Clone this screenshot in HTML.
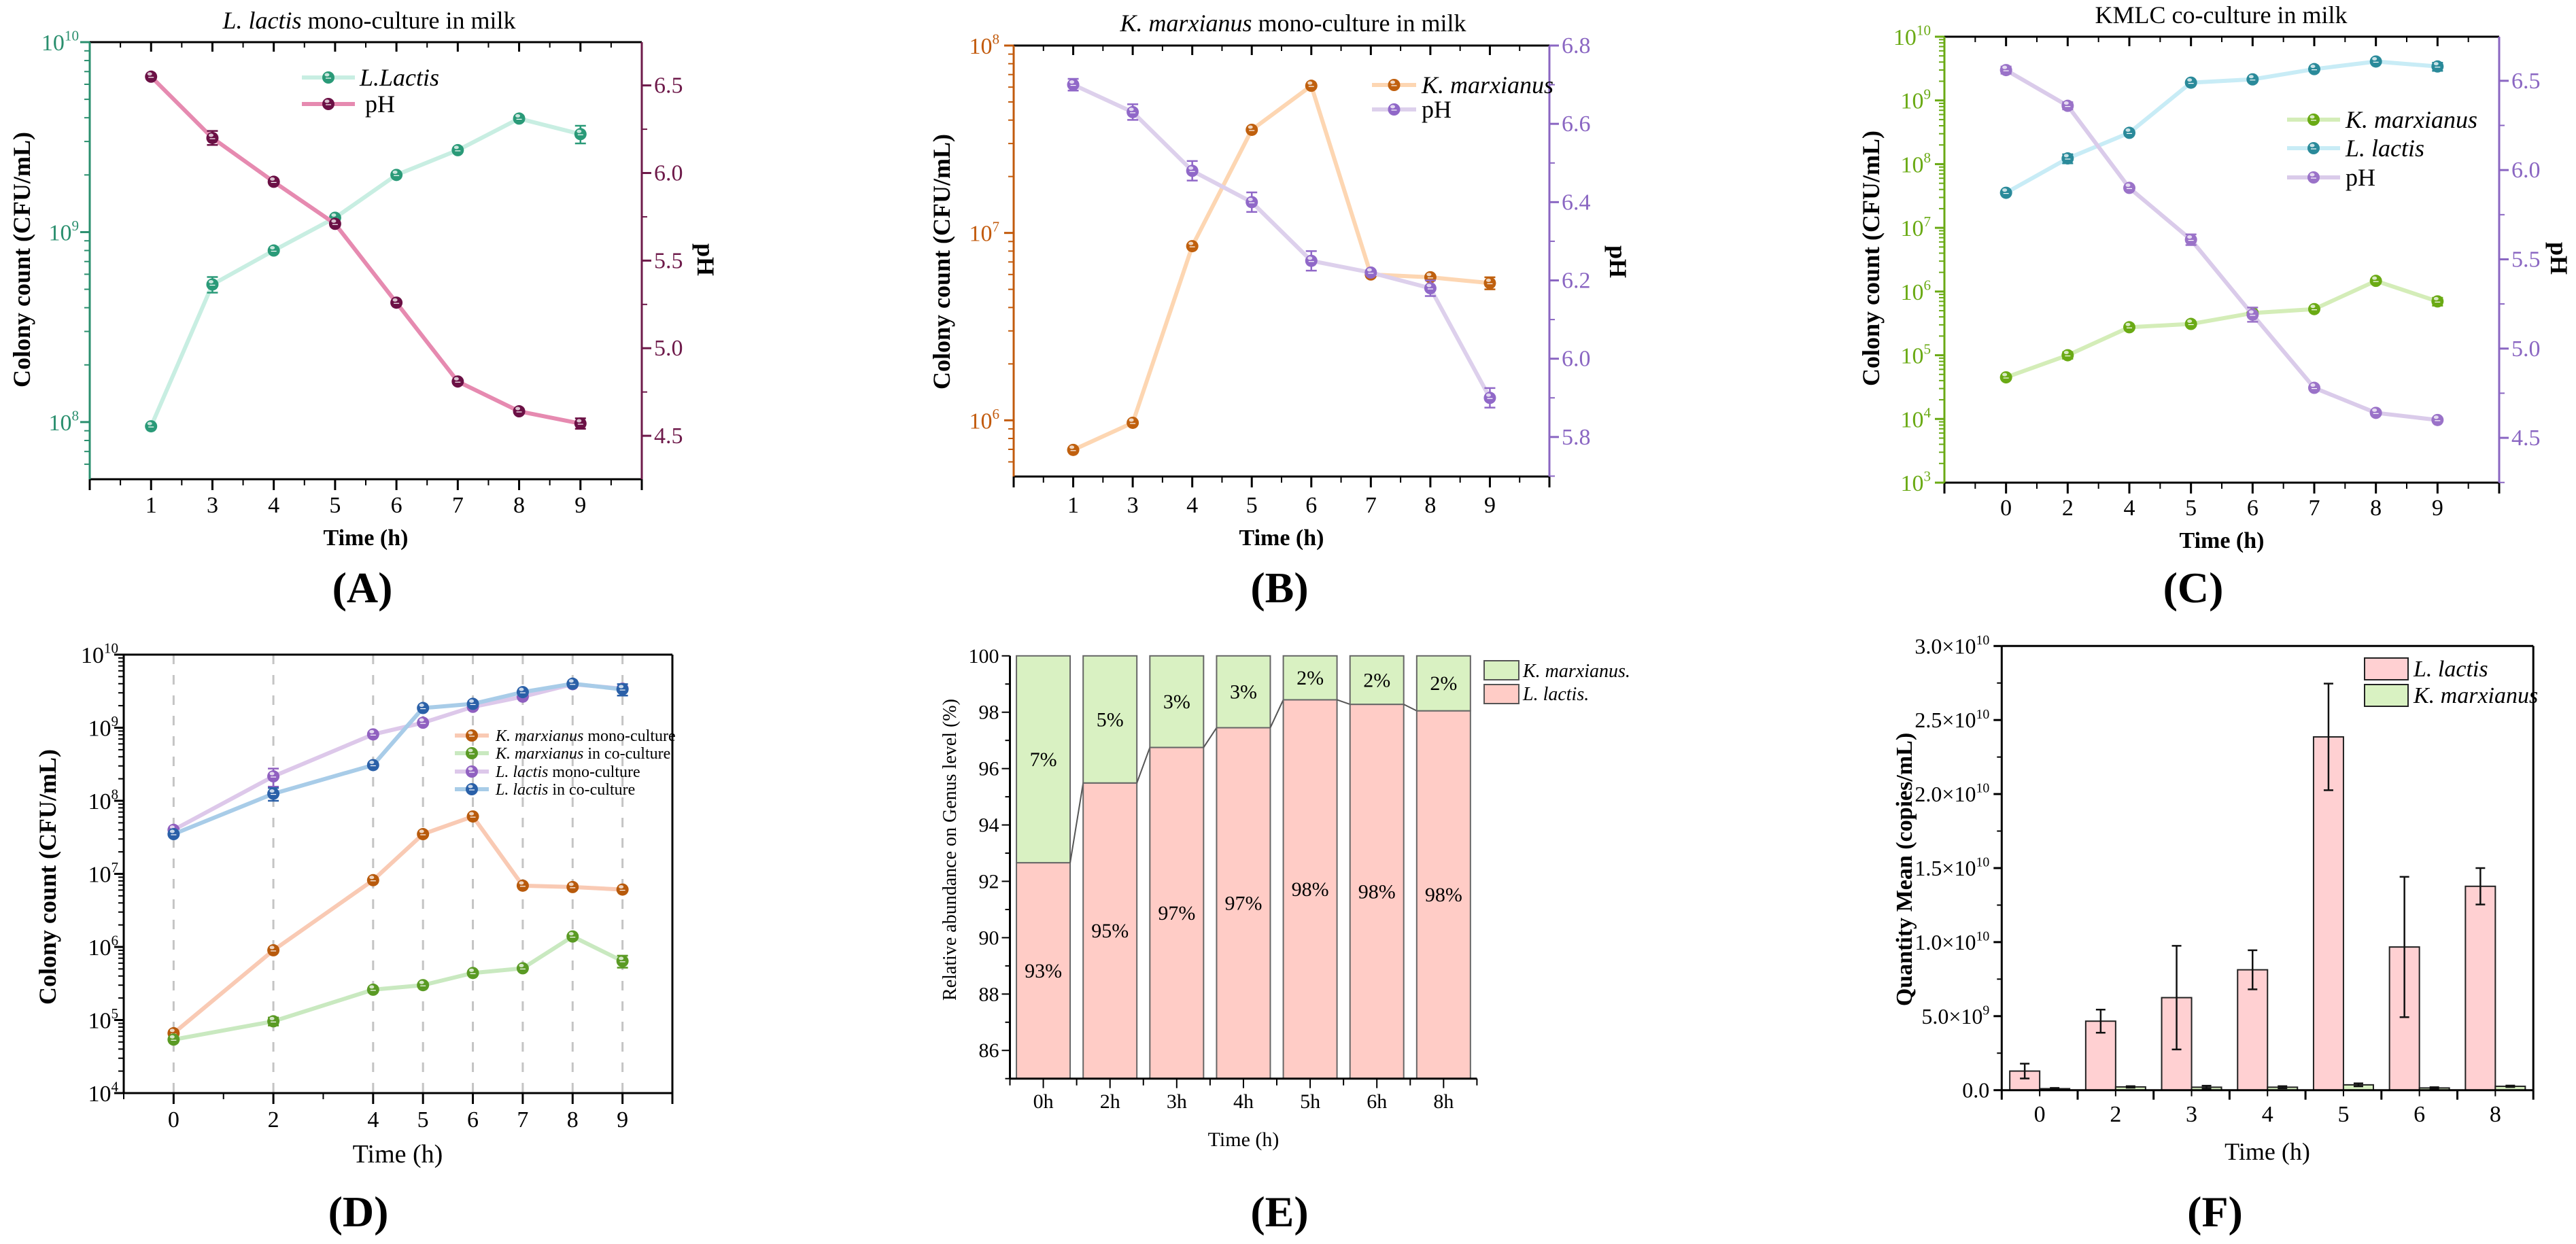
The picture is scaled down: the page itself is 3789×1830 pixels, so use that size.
<!DOCTYPE html>
<html><head><meta charset="utf-8">
<style>
html,body{margin:0;padding:0;background:#fff;}
svg{display:block;}
svg text{font-family:"Liberation Serif","DejaVu Serif",serif;}
</style></head>
<body>
<svg id="fig" xmlns="http://www.w3.org/2000/svg" width="3789" height="1830" viewBox="0 0 3789 1830" font-family="Liberation Serif, serif">
<rect x="0" y="0" width="3789" height="1830" fill="#fff"/>
</svg>
<script>
// ---------- DATA ----------
// Panel A
const aCats = ['1','3','4','5','6','7','8','9'];
const aLactis = [9.5e7, 5.3e8, 8.0e8, 1.19e9, 2.0e9, 2.7e9, 3.96e9, 3.28e9];
const aLactisErr = [0, 0.5e8, 0, 0, 0, 0, 0, 0.35e9];
const aPH = [6.55, 6.20, 5.95, 5.71, 5.26, 4.81, 4.64, 4.57];
const aPHErr = [0.01, 0.04, 0.01, 0.01, 0.01, 0.01, 0.01, 0.03];
// Panel B
const bCats = ['1','3','4','5','6','7','8','9'];
const bKmarx = [6.95e5, 9.7e5, 8.5e6, 3.55e7, 6.1e7, 6.0e6, 5.8e6, 5.4e6];
const bKmarxErr = [0, 0, 0, 0, 0, 0, 0, 0.4e6];
const bPH = [6.70, 6.63, 6.48, 6.40, 6.25, 6.22, 6.18, 5.90];
const bPHErr = [0.015, 0.02, 0.025, 0.025, 0.025, 0.005, 0.02, 0.025];
// Panel C
const cCats = ['0','2','4','5','6','7','8','9'];
const cKmarx = [4.5e4, 1.0e5, 2.75e5, 3.1e5, 4.6e5, 5.3e5, 1.47e6, 7.0e5];
const cKmarxErr = [0, 1.2e4, 0, 0, 0, 0, 0, 1.0e5];
const cLactis = [3.55e7, 1.23e8, 3.1e8, 1.9e9, 2.14e9, 3.1e9, 4.08e9, 3.41e9];
const cLactisErr = [0, 2e7, 0, 0, 0, 0, 0, 5e8];
const cPH = [6.56, 6.36, 5.90, 5.61, 5.19, 4.78, 4.64, 4.60];
const cPHErr = [0.02, 0.02, 0.01, 0.03, 0.04, 0.01, 0.01, 0.01];
// Panel D
const dTimes = [0, 2, 4, 5, 6, 7, 8, 9];
const dKmono = [6.6e4, 9.0e5, 8.2e6, 3.5e7, 6.1e7, 6.9e6, 6.6e6, 6.1e6];
const dKco = [5.4e4, 9.6e4, 2.6e5, 3.0e5, 4.4e5, 5.1e5, 1.39e6, 6.4e5];
const dLmono = [4.0e7, 2.16e8, 8.1e8, 1.17e9, 1.93e9, 2.66e9, 3.94e9, 3.42e9];
const dLco = [3.5e7, 1.25e8, 3.08e8, 1.86e9, 2.12e9, 3.07e9, 4.0e9, 3.35e9];
const dKcoErr = [0, 1.2e4, 0, 0, 0, 0, 0, 1.2e5];
const dLmonoErr = [0, 6e7, 0, 0, 0, 0, 0, 0];
const dLcoErr = [0, 2.5e7, 0, 0, 0, 0, 0, 6e8];
// Panel E
const eCats = ['0h','2h','3h','4h','5h','6h','8h'];
const eLactis = [92.66, 95.49, 96.75, 97.45, 98.44, 98.28, 98.05];
// Panel F
const fCats = ['0','2','3','4','5','6','8'];
const fLactis = [1.29e9, 4.66e9, 6.25e9, 8.13e9, 2.386e10, 9.67e9, 1.377e10];
const fLactisErr = [0.5e9, 0.78e9, 3.5e9, 1.32e9, 3.6e9, 4.74e9, 1.23e9];
const fKmarx = [0.1e9, 0.22e9, 0.2e9, 0.2e9, 0.36e9, 0.15e9, 0.26e9];
const fKmarxErr = [0.05e9, 0.05e9, 0.1e9, 0.07e9, 0.1e9, 0.05e9, 0.05e9];

// ---------- HELPERS ----------
const NS = 'http://www.w3.org/2000/svg';
const svg = document.getElementById('fig');
const SERIF = '"Liberation Serif", "DejaVu Serif", serif';
function el(tag, attrs, name, parent) {
  const e = document.createElementNS(NS, tag);
  for (const k in attrs) e.setAttribute(k, attrs[k]);
  
  
  (parent || svg).appendChild(e);
  return e;
}
function grp(name) { return el('g', {}, name); }
function line(x1, y1, x2, y2, c, w, name, p, dash) {
  const a = {x1:x1, y1:y1, x2:x2, y2:y2, stroke:c, 'stroke-width':w};
  if (dash) a['stroke-dasharray'] = dash;
  return el('line', a, name, p);
}
function txt(x, y, s, o, name, p) {
  o = o || {};
  const a = {x:x, y:y, 'font-size':o.size||30, fill:o.fill||'#000', 'text-anchor':o.anchor||'start'};
  a['font-family'] = SERIF;
  if (o.weight) a['font-weight'] = o.weight;
  if (o.style) a['font-style'] = o.style;
  if (o.rot) a.transform = 'rotate(' + o.rot + ' ' + x + ' ' + y + ')';
  const t = el('text', a, name, p);
  t.style.fontFamily = SERIF;
  if (Array.isArray(s)) {
    s.forEach(function(part) {
      const ts = document.createElementNS(NS, 'tspan');
      ts.setAttribute('font-family', SERIF);
      if (part.i) ts.setAttribute('font-style', 'italic');
      if (part.sup) { ts.setAttribute('font-size', (o.size||30)*0.62); ts.setAttribute('dy', -(o.size||30)*0.42); }
      ts.textContent = part.t;
      t.appendChild(ts);
    });
  } else t.textContent = s;
  return t;
}
function lin(d0, d1, r0, r1) { return function(v) { return r0 + (v - d0) * (r1 - r0) / (d1 - d0); }; }
function logS(L0, L1, r0, r1) { const f = lin(L0, L1, r0, r1); return function(v) { return f(Math.log10(v)); }; }
function marker(x, y, c, name, p) {
  const g = el('g', {}, name, p);
  el('circle', {cx:x, cy:y, r:9, fill:c}, name + '-dot', g);
  el('ellipse', {cx:x - 2, cy:y - 4, rx:3.5, ry:2.5, fill:'#fff', opacity:0.75}, name + '-shine', g);
  line(x - 4, y + 1, x + 4, y + 1, '#fff', 1.2, name + '-tick', g);
  return g;
}
function errBar(x, yLo, yHi, c, name, p, cap) {
  cap = cap || 8;
  const g = el('g', {}, name, p);
  line(x, yLo, x, yHi, c, 2.5, name + '-stem', g);
  line(x - cap, yLo, x + cap, yLo, c, 2.5, name + '-cap-low', g);
  line(x - cap, yHi, x + cap, yHi, c, 2.5, name + '-cap-high', g);
  return g;
}
function series(xs, vals, errs, ys, lineC, markC, name, p) {
  const g = el('g', {}, name, p);
  let d = '';
  vals.forEach(function(v, i) { d += (i ? 'L' : 'M') + xs[i] + ' ' + ys(v) + ' '; });
  el('path', {d:d, fill:'none', stroke:lineC, 'stroke-width':6, 'stroke-linejoin':'round'}, name + '-line', g);
  vals.forEach(function(v, i) {
    if (errs && errs[i] > 0) errBar(xs[i], ys(v - errs[i]), ys(v + errs[i]), markC, name + '-error-' + i, g);
  });
  vals.forEach(function(v, i) { marker(xs[i], ys(v), markC, name + '-point-' + i, g); });
  return g;
}
function logAxisLeft(x, yT, yB, L0, L1, ys, color, p, labelRight) {
  line(x, yT, x, yB, color, 3, 'left-axis-line', p);
  for (let e = Math.floor(L0); e <= Math.ceil(L1); e++) {
    for (let k = 1; k < 10; k++) {
      const L = e + Math.log10(k);
      if (L < L0 - 1e-6 || L > L1 + 1e-6) continue;
      const y = ys(Math.pow(10, L));
      if (k === 1) {
        line(x - 14, y, x, y, color, 3, 'left-major-tick', p);
        txt(labelRight, y + 12, [{t:'10'}, {t:String(e), sup:true}], {size:34, fill:color, anchor:'end'}, 'left-tick-label', p);
      } else line(x - 8, y, x, y, color, 2, 'left-minor-tick', p);
    }
  }
}
function catXAxis(x0, x1, yB, cats, p, labelY, topY) {
  line(x0, yB, x1, yB, '#000', 3, 'x-axis-line', p);
  if (topY !== undefined) line(x0, topY, x1, topY, '#000', 3, 'top-axis-line', p);
  const step = (x1 - x0) / 9;
  for (let j = 0; j <= 9; j++) {
    const x = x0 + j * step;
    line(x, yB, x, yB + 16, '#000', 3, 'x-major-tick', p);
    if (topY !== undefined) line(x, topY, x, topY + 14, '#000', 3, 'top-major-tick', p);
    if (j < 9) {
      line(x + step / 2, yB, x + step / 2, yB + 9, '#000', 2, 'x-minor-tick', p);
      if (topY !== undefined) line(x + step / 2, topY, x + step / 2, topY + 8, '#000', 2, 'top-minor-tick', p);
    }
  }
  const xs = cats.map(function(c, i) { return x0 + (i + 1) * step; });
  cats.forEach(function(c, i) { txt(xs[i], labelY, c, {size:34, anchor:'middle'}, 'x-tick-label', p); });
  return xs;
}
function linRightAxis(x, yT, yB, d0, d1, majors, minorStep, color, p, fmt) {
  line(x, yT, x, yB, color, 3, 'right-axis-line', p);
  const ys = lin(d0, d1, yB, yT);
  const start = Math.ceil(d0 / minorStep - 1e-6) * minorStep;
  for (let v = start; v <= d1 + 1e-9; v += minorStep) {
    line(x, ys(v), x + 8, ys(v), color, 2, 'right-minor-tick', p);
  }
  majors.forEach(function(v) {
    line(x, ys(v), x + 14, ys(v), color, 3, 'right-major-tick', p);
    txt(x + 18, ys(v) + 11, v.toFixed(fmt), {size:34, fill:color}, 'right-tick-label', p);
  });
  return ys;
}
function legendRow(x1, x2, y, lc, mc, label, textX, size, name, p) {
  const g = el('g', {}, name, p);
  line(x1, y, x2, y, lc, 6, name + '-swatch-line', g);
  marker((x1 + x2) / 2, y, mc, name + '-swatch-marker', g);
  txt(textX, y + size * 0.33, label, {size:size}, name + '-label', g);
}

// ---------- PANEL A ----------
(function() {
  const p = grp('panel-a');
  const x0 = 132, x1 = 944, yT = 62, yB = 705;
  const L0 = 7.699, L1 = 10;
  const ys = logS(L0, L1, yB, yT);
  txt(543, 42, [{t:'L. lactis', i:true}, {t:' mono-culture in milk'}], {size:36, anchor:'middle'}, 'panel-a-title', p);
  const xs = catXAxis(x0, x1, yB, aCats, p, 754, yT);
  logAxisLeft(x0, yT, yB, L0, L1, ys, '#2a8f6e', p, 116);
  const yr = linRightAxis(x1, yT, yB, 4.252, 6.747, [4.5, 5.0, 5.5, 6.0, 6.5], 0.25, '#6e1a4a', p, 1);
  series(xs, aLactis, aLactisErr, ys, '#c8eee2', '#2a9a78', 'series-a-lactis', p);
  series(xs, aPH, aPHErr, yr, '#e68ab0', '#6b1045', 'series-a-ph', p);
  legendRow(444, 522, 114, '#c8eee2', '#2a9a78', [{t:'L.Lactis', i:true}], 529, 36, 'legend-a-lactis', p);
  legendRow(444, 522, 153, '#e68ab0', '#6b1045', 'pH', 537, 36, 'legend-a-ph', p);
  txt(44, 382, 'Colony count (CFU/mL)', {size:36, weight:'bold', anchor:'middle', rot:-90}, 'panel-a-y-title', p);
  txt(1026, 382, 'pH', {size:36, weight:'bold', anchor:'middle', rot:90}, 'panel-a-y2-title', p);
  txt(538, 802, 'Time (h)', {size:34, weight:'bold', anchor:'middle'}, 'panel-a-x-title', p);
  txt(533, 886, '(A)', {size:64, weight:'bold', anchor:'middle'}, 'panel-a-label', p);
})();

// ---------- PANEL B ----------
(function() {
  const p = grp('panel-b');
  const x0 = 1491, x1 = 2279, yT = 67, yB = 701;
  const L0 = 5.70, L1 = 8;
  const ys = logS(L0, L1, yB, yT);
  txt(1902, 46, [{t:'K. marxianus', i:true}, {t:' mono-culture in milk'}], {size:36, anchor:'middle'}, 'panel-b-title', p);
  const xs = catXAxis(x0, x1, yB, bCats, p, 754, yT);
  logAxisLeft(x0, yT, yB, L0, L1, ys, '#c25a0c', p, 1470);
  const yr = linRightAxis(x1, yT, yB, 5.699, 6.8, [5.8, 6.0, 6.2, 6.4, 6.6, 6.8], 0.1, '#8a66c2', p, 1);
  series(xs, bKmarx, bKmarxErr, ys, '#fdd6b2', '#c0600e', 'series-b-kmarxianus', p);
  series(xs, bPH, bPHErr, yr, '#ddd0ec', '#9068c8', 'series-b-ph', p);
  legendRow(2018, 2083, 125, '#fdd6b2', '#c0600e', [{t:'K. marxianus', i:true}], 2091, 36, 'legend-b-kmarxianus', p);
  legendRow(2018, 2083, 161, '#ddd0ec', '#9068c8', 'pH', 2091, 36, 'legend-b-ph', p);
  txt(1397, 385, 'Colony count (CFU/mL)', {size:36, weight:'bold', anchor:'middle', rot:-90}, 'panel-b-y-title', p);
  txt(2368, 385, 'pH', {size:36, weight:'bold', anchor:'middle', rot:90}, 'panel-b-y2-title', p);
  txt(1885, 802, 'Time (h)', {size:34, weight:'bold', anchor:'middle'}, 'panel-b-x-title', p);
  txt(1882, 886, '(B)', {size:64, weight:'bold', anchor:'middle'}, 'panel-b-label', p);
})();

// ---------- PANEL C ----------
(function() {
  const p = grp('panel-c');
  const x0 = 2860, x1 = 3676, yT = 54, yB = 710;
  const L0 = 3, L1 = 10;
  const ys = logS(L0, L1, yB, yT);
  txt(3267, 34, 'KMLC co-culture in milk', {size:36, anchor:'middle'}, 'panel-c-title', p);
  const xs = catXAxis(x0, x1, yB, cCats, p, 758, yT);
  logAxisLeft(x0, yT, yB, L0, L1, ys, '#6aaa14', p, 2840);
  const yr = linRightAxis(x1, yT, yB, 4.249, 6.747, [4.5, 5.0, 5.5, 6.0, 6.5], 0.25, '#8a66c2', p, 1);
  series(xs, cKmarx, cKmarxErr, ys, '#d4edb8', '#6aaa14', 'series-c-kmarxianus', p);
  series(xs, cLactis, cLactisErr, ys, '#c8ecf6', '#2a8a9a', 'series-c-lactis', p);
  series(xs, cPH, cPHErr, yr, '#dacbea', '#9a72c8', 'series-c-ph', p);
  legendRow(3364, 3442, 176, '#d4edb8', '#6aaa14', [{t:'K. marxianus', i:true}], 3450, 36, 'legend-c-kmarxianus', p);
  legendRow(3364, 3442, 218, '#c8ecf6', '#2a8a9a', [{t:'L. lactis', i:true}], 3450, 36, 'legend-c-lactis', p);
  legendRow(3364, 3442, 261, '#dacbea', '#9a72c8', 'pH', 3450, 36, 'legend-c-ph', p);
  txt(2764, 380, 'Colony count (CFU/mL)', {size:36, weight:'bold', anchor:'middle', rot:-90}, 'panel-c-y-title', p);
  txt(3752, 380, 'pH', {size:36, weight:'bold', anchor:'middle', rot:90}, 'panel-c-y2-title', p);
  txt(3268, 806, 'Time (h)', {size:34, weight:'bold', anchor:'middle'}, 'panel-c-x-title', p);
  txt(3226, 886, '(C)', {size:64, weight:'bold', anchor:'middle'}, 'panel-c-label', p);
})();

// ---------- PANEL D ----------
(function() {
  const p = grp('panel-d');
  const x0 = 182, x1 = 989, yT = 963, yB = 1608;
  const ys = logS(4, 10, yB, yT);
  const xs0 = lin(-1, 10, x0, x1);
  const xs = dTimes.map(xs0);
  xs.forEach(function(x) { line(x, yT, x, yB, '#c4c4c4', 3, 'panel-d-gridline', p, '14,16'); });
  line(x0, yT, x1, yT, '#000', 3, 'panel-d-top-border', p);
  line(x1, yT, x1, yB, '#000', 3, 'panel-d-right-border', p);
  line(x0, yB, x1, yB, '#000', 3, 'panel-d-x-axis-line', p);
  for (let t = -1; t <= 10; t++) {
    const x = xs0(t);
    const major = (t >= 0 && t % 2 === 0) || dTimes.indexOf(t) >= 0;
    line(x, yB, x, yB + (major ? 16 : 9), '#000', major ? 3 : 2, 'panel-d-x-tick', p);
  }
  dTimes.forEach(function(t, i) { txt(xs[i], 1658, String(t), {size:34, anchor:'middle'}, 'panel-d-x-tick-label', p); });
  logAxisLeft(x0, yT, yB, 4, 10, ys, '#000', p, 174);
  series(xs, dKmono, null, ys, '#f9cab4', '#b85a0c', 'series-d-kmarxianus-mono', p);
  series(xs, dKco, dKcoErr, ys, '#c9e9c0', '#5a9a24', 'series-d-kmarxianus-co', p);
  series(xs, dLmono, dLmonoErr, ys, '#ddc8ea', '#9060c0', 'series-d-lactis-mono', p);
  series(xs, dLco, dLcoErr, ys, '#a8cce8', '#2a60a8', 'series-d-lactis-co', p);
  legendRow(669, 719, 1082, '#f9cab4', '#b85a0c', [{t:'K. marxianus', i:true}, {t:' mono-culture'}], 729, 24, 'legend-d-kmarxianus-mono', p);
  legendRow(669, 719, 1108, '#c9e9c0', '#5a9a24', [{t:'K. marxianus', i:true}, {t:' in co-culture'}], 729, 24, 'legend-d-kmarxianus-co', p);
  legendRow(669, 719, 1135, '#ddc8ea', '#9060c0', [{t:'L. lactis', i:true}, {t:' mono-culture'}], 729, 24, 'legend-d-lactis-mono', p);
  legendRow(669, 719, 1161, '#a8cce8', '#2a60a8', [{t:'L. lactis', i:true}, {t:' in co-culture'}], 729, 24, 'legend-d-lactis-co', p);
  txt(82, 1290, 'Colony count (CFU/mL)', {size:36, weight:'bold', anchor:'middle', rot:-90}, 'panel-d-y-title', p);
  txt(585, 1710, 'Time (h)', {size:38, anchor:'middle'}, 'panel-d-x-title', p);
  txt(527, 1804, '(D)', {size:64, weight:'bold', anchor:'middle'}, 'panel-d-label', p);
})();

// ---------- PANEL E ----------
(function() {
  const p = grp('panel-e');
  const x0 = 1485.5, x1 = 2172.4, yB = 1586.7, yT = 964.8;
  const ys = lin(85, 100, yB, yT);
  const step = (x1 - x0) / eCats.length, bw = 79;
  const cx = eCats.map(function(c, i) { return x0 + (i + 0.5) * step; });
  eLactis.forEach(function(v, i) {
    const g = el('g', {}, 'bar-e-' + eCats[i], p);
    el('rect', {x:cx[i] - bw / 2, y:ys(v), width:bw, height:yB - ys(v), fill:'#ffccc6', stroke:'#666', 'stroke-width':2}, 'bar-e-lactis-' + eCats[i], g);
    el('rect', {x:cx[i] - bw / 2, y:ys(100), width:bw, height:ys(v) - ys(100), fill:'#d9f1c2', stroke:'#666', 'stroke-width':2}, 'bar-e-kmarxianus-' + eCats[i], g);
    txt(cx[i], (ys(v) + yB) / 2 + 10, Math.round(v) + '%', {size:30, anchor:'middle'}, 'bar-e-lactis-label', g);
    txt(cx[i], (ys(v) + ys(100)) / 2 + 10, Math.round(100 - v) + '%', {size:30, anchor:'middle'}, 'bar-e-kmarxianus-label', g);
    if (i < eLactis.length - 1) line(cx[i] + bw / 2, ys(v), cx[i + 1] - bw / 2, ys(eLactis[i + 1]), '#555', 2, 'bar-e-connector', g);
  });
  line(x0, yT, x0, yB, '#000', 3, 'panel-e-y-axis-line', p);
  line(x0, yB, x1, yB, '#000', 3, 'panel-e-x-axis-line', p);
  for (let v = 85; v <= 100; v++) {
    const major = v % 2 === 0;
    line(x0 - (major ? 12 : 7), ys(v), x0, ys(v), '#000', 2, 'panel-e-y-tick', p);
    if (major) txt(x0 - 16, ys(v) + 10, String(v), {size:30, anchor:'end'}, 'panel-e-y-tick-label', p);
  }
  for (let j = 0; j <= eCats.length; j++) line(x0 + j * step, yB, x0 + j * step, yB + 10, '#000', 2, 'panel-e-x-tick', p);
  eCats.forEach(function(c, i) {
    line(cx[i], yB, cx[i], yB + 14, '#000', 2, 'panel-e-x-tick', p);
    txt(cx[i], 1630, c, {size:30, anchor:'middle'}, 'panel-e-x-tick-label', p);
  });
  el('rect', {x:2183, y:972, width:51, height:28, fill:'#d9f1c2', stroke:'#555', 'stroke-width':2}, 'legend-e-kmarxianus-swatch', p);
  el('rect', {x:2183, y:1007, width:51, height:28, fill:'#ffccc6', stroke:'#555', 'stroke-width':2}, 'legend-e-lactis-swatch', p);
  txt(2240, 996, [{t:'K. marxianus.', i:true}], {size:28}, 'legend-e-kmarxianus-label', p);
  txt(2240, 1030, [{t:'L. lactis.', i:true}], {size:28}, 'legend-e-lactis-label', p);
  txt(1406, 1250, 'Relative abundance on Genus level (%)', {size:28, anchor:'middle', rot:-90}, 'panel-e-y-title', p);
  txt(1829, 1686, 'Time (h)', {size:30, anchor:'middle'}, 'panel-e-x-title', p);
  txt(1882, 1804, '(E)', {size:64, weight:'bold', anchor:'middle'}, 'panel-e-label', p);
})();

// ---------- PANEL F ----------
(function() {
  const p = grp('panel-f');
  const x0 = 2944.3, x1 = 3726.2, yB = 1603.7, yT = 950.3;
  const ys = lin(0, 3e10, yB, yT);
  const step = (x1 - x0) / fCats.length, bw = 44;
  const cx = fCats.map(function(c, i) { return x0 + (i + 0.5) * step; });
  fCats.forEach(function(c, i) {
    const g = el('g', {}, 'bar-group-f-' + c, p);
    el('rect', {x:cx[i] - bw, y:ys(fLactis[i]), width:bw, height:yB - ys(fLactis[i]), fill:'#ffd0d2', stroke:'#222', 'stroke-width':2}, 'bar-f-lactis-' + c, g);
    el('rect', {x:cx[i], y:ys(fKmarx[i]), width:bw, height:yB - ys(fKmarx[i]), fill:'#d9f2c2', stroke:'#222', 'stroke-width':2}, 'bar-f-kmarxianus-' + c, g);
    errBar(cx[i] - bw / 2, ys(fLactis[i] - fLactisErr[i]), ys(fLactis[i] + fLactisErr[i]), '#111', 'error-f-lactis-' + c, g, 7);
    errBar(cx[i] + bw / 2, ys(fKmarx[i] - fKmarxErr[i]), ys(fKmarx[i] + fKmarxErr[i]), '#111', 'error-f-kmarxianus-' + c, g, 7);
  });
  line(x0, yT, x0, yB, '#000', 3, 'panel-f-y-axis-line', p);
  line(x0, yB, x1, yB, '#000', 3, 'panel-f-x-axis-line', p);
  line(x1, yT, x1, yB, '#000', 3, 'panel-f-right-border', p);
  line(x0, yT, x1, yT, '#000', 3, 'panel-f-top-border', p);
  const fTickVals = [0, 5e9, 1e10, 1.5e10, 2e10, 2.5e10, 3e10];
  const fTickMant = ['0.0', '5.0×10', '1.0×10', '1.5×10', '2.0×10', '2.5×10', '3.0×10'];
  const fTickExp = ['', '9', '10', '10', '10', '10', '10'];
  fTickVals.forEach(function(v, i) {
    line(x0 - 12, ys(v), x0, ys(v), '#000', 3, 'panel-f-y-tick', p);
    if (v < 3e10) line(x0 - 7, ys(v + 2.5e9), x0, ys(v + 2.5e9), '#000', 2, 'panel-f-y-minor-tick', p);
    const parts = fTickExp[i] ? [{t:fTickMant[i]}, {t:fTickExp[i], sup:true}] : [{t:fTickMant[i]}];
    txt(x0 - 18, ys(v) + 11, parts, {size:32, anchor:'end'}, 'panel-f-y-tick-label', p);
  });
  for (let j = 0; j <= fCats.length; j++) line(x0 + j * step, yB, x0 + j * step, yB + 14, '#000', 3, 'panel-f-x-tick', p);
  fCats.forEach(function(c, i) {
    line(cx[i], yB, cx[i], yB + 9, '#000', 2, 'panel-f-x-minor-tick', p);
    txt(cx[i], 1650, c, {size:34, anchor:'middle'}, 'panel-f-x-tick-label', p);
  });
  el('rect', {x:3478, y:968, width:64, height:32, fill:'#ffd0d2', stroke:'#222', 'stroke-width':2}, 'legend-f-lactis-swatch', p);
  el('rect', {x:3478, y:1007, width:64, height:32, fill:'#d9f2c2', stroke:'#222', 'stroke-width':2}, 'legend-f-kmarxianus-swatch', p);
  txt(3550, 995, [{t:'L. lactis', i:true}], {size:34}, 'legend-f-lactis-label', p);
  txt(3550, 1034, [{t:'K. marxianus', i:true}], {size:34}, 'legend-f-kmarxianus-label', p);
  txt(2812, 1279, 'Quantity Mean (copies/mL)', {size:34, weight:'bold', anchor:'middle', rot:-90}, 'panel-f-y-title', p);
  txt(3335, 1706, 'Time (h)', {size:36, anchor:'middle'}, 'panel-f-x-title', p);
  txt(3258, 1804, '(F)', {size:64, weight:'bold', anchor:'middle'}, 'panel-f-label', p);
})();
</script>
</body></html>
